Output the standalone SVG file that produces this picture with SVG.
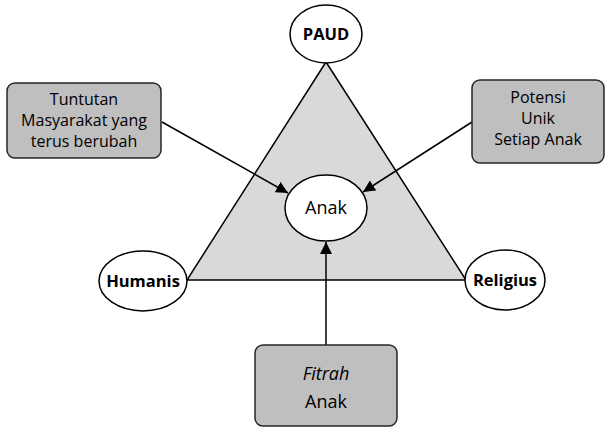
<svg xmlns="http://www.w3.org/2000/svg" width="606" height="428" viewBox="0 0 606 428">
<defs>
<marker id="arr" viewBox="0 0 10 10" refX="10" refY="5" markerWidth="12" markerHeight="12" markerUnits="userSpaceOnUse" orient="auto">
<path d="M0,0 L10,5 L0,10 z" fill="#000"/>
</marker>
<style>
.t{font-family:"Open Sans","Liberation Sans",Arial,sans-serif;font-size:16px;fill:#000;text-anchor:middle}
.big{font-size:18px}
.b{font-weight:bold;font-size:16.5px}
.el{fill:#fff;stroke:#000;stroke-width:1.5}
.box{fill:#bfbfbf;stroke:#262626;stroke-width:1.5}
.c{stroke:#000;stroke-width:1.5;fill:none}
</style>
</defs>
<rect width="606" height="428" fill="#fff"/>
<g id="triangle">
<polygon points="326,62 187,280 466,280" fill="#d9d9d9" stroke="#000" stroke-width="1.5"/>
</g>
<g id="connectors">
<line class="c" x1="162" y1="122" x2="288" y2="193" marker-end="url(#arr)"/>
<line class="c" x1="472" y1="122" x2="363" y2="192" marker-end="url(#arr)"/>
<line class="c" x1="326" y1="345" x2="326" y2="242" marker-end="url(#arr)"/>
</g>
<g id="paud">
<ellipse class="el" cx="326" cy="34" rx="36" ry="29"/>
<text class="t b" x="326" y="40">PAUD</text>
</g>
<g id="humanis">
<ellipse class="el" cx="143" cy="281" rx="44" ry="30"/>
<text class="t b" x="143" y="287">Humanis</text>
</g>
<g id="religius">
<ellipse class="el" cx="505" cy="280" rx="40" ry="30"/>
<text class="t b" x="505" y="286">Religius</text>
</g>
<g id="anak">
<ellipse class="el" cx="326" cy="208" rx="41" ry="33"/>
<text class="t big" x="326" y="214">Anak</text>
</g>
<g id="tuntutan">
<rect class="box" x="7" y="83" width="154" height="75" rx="8"/>
<text class="t" x="84" y="105">Tuntutan</text>
<text class="t" x="84" y="126">Masyarakat yang</text>
<text class="t" x="84" y="147">terus berubah</text>
</g>
<g id="potensi">
<rect class="box" x="472" y="80" width="132" height="83" rx="8"/>
<text class="t" x="538" y="103">Potensi</text>
<text class="t" x="538" y="124">Unik</text>
<text class="t" x="538" y="145">Setiap Anak</text>
</g>
<g id="fitrah">
<rect class="box" x="255" y="345" width="142" height="81" rx="8"/>
<text class="t big" x="326" y="380" font-style="italic">Fitrah</text>
<text class="t big" x="326" y="408">Anak</text>
</g>
</svg>
